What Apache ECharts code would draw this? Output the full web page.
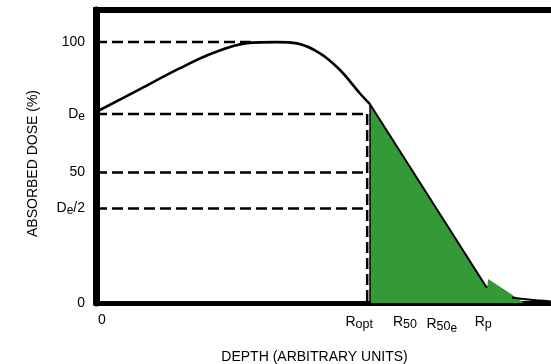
<!DOCTYPE html>
<html>
<head>
<meta charset="utf-8">
<script src="https://cdn.jsdelivr.net/npm/echarts@6/dist/echarts.min.js"></script>
<style>
  html, body { margin: 0; padding: 0; background: #fff; }
  #chart { width: 551px; height: 364px; }
</style>
</head>
<body>
<div id="chart"></div>
<script>
// Electron depth-dose curve (schematic), depth in arbitrary units, dose in %.
const buildUpDepth = [0, 0.967, 1.846, 2.571, 3.319, 3.978, 4.418, 4.923, 5.363, 5.802, 6.022];
const buildUpDose  = [73.2, 82.0, 90.0, 95.8, 99.6, 100, 99.5, 95.7, 89.3, 80.3, 76.2];

// Linear fall-off from the shoulder towards the practical range
const falloffDepth = [6.022, 8.593];
const falloffDose  = [76.2, 5.75];

// Bremsstrahlung tail beyond the practical range
const tailDepth = [9.14, 9.5, 10];
const tailDose  = [2.1, 1.3, 0.6];

// Shaded region under the fall-off
const shadeDepth = [6.022, 6.022, 8.593, 8.62, 8.88, 9.10, 9.21, 9.32, 9.40];
const shadeDose  = [0, 76.2, 5.75, 9.2, 6.2, 3.7, 2.3, 1.1, 0];

// Reference dose levels and depths
const De = 72.4;
const halfDe = De / 2;
const Ropt = 5.96;
const R50 = 6.79;
const R50e = 7.60;
const Rp = 8.51;
const peakLineEnd = 3.4;

const yTickValues = [0, halfDe, 50, De, 100];
const yTickLabels = ['0', '{d|D}{e|e}{d|/2}', '50', '{d|D}{e|e}', '100'];
const xTickValues = [0, Ropt, R50, R50e, Rp];
const xTickLabels = ['{g| }{r|0}', '{r|R}{s|opt}{w| }', '{r|R}{s|50}', '{r|R}{s|50}{t|e}', '{r|R}{s|p}'];

const FONT = '"Liberation Sans", Arial, Helvetica, sans-serif';
const dash = [11, 5];

const zip = (xs, ys) => xs.map((x, i) => [x, ys[i]]);

function labelFor(values, labels, v) {
  let best = 0;
  values.forEach((t, i) => { if (Math.abs(t - v) < Math.abs(values[best] - v)) best = i; });
  return labels[best];
}

function dashed(data) {
  return {
    type: 'line', data, symbol: 'none', silent: true,
    lineStyle: { color: '#000', width: 2.5, type: dash }
  };
}

const chart = echarts.init(document.getElementById('chart'), null, { renderer: 'canvas' });

chart.setOption({
  animation: false,
  backgroundColor: '#fff',
  grid: { left: 96, right: 0, top: 10, bottom: 61 },
  xAxis: [
    {
      type: 'value', min: 0, max: 10,
      axisLine: { show: true, onZero: false, lineStyle: { color: '#000', width: 5, cap: 'square' } },
      axisTick: { show: false },
      splitLine: { show: false },
      axisLabel: {
        customValues: xTickValues,
        margin: 10,
        color: '#000',
        fontFamily: FONT,
        fontSize: 14,
        formatter: v => labelFor(xTickValues, xTickLabels, v),
        rich: {
          r: { fontSize: 14, fontFamily: FONT, color: '#000' },
          s: { fontSize: 12.5, fontFamily: FONT, color: '#000', padding: [5, 0, 0, 0] },
          t: { fontSize: 12, fontFamily: FONT, color: '#000', padding: [10, 0, 0, 0] },
          g: { width: 12 },
          w: { width: 16 }
        }
      }
    },
    {
      type: 'value', min: 0, max: 10, position: 'top',
      axisLine: { show: true, onZero: false, lineStyle: { color: '#000', width: 6, cap: 'square' } },
      axisTick: { show: false },
      splitLine: { show: false },
      axisLabel: { show: false }
    }
  ],
  yAxis: {
    type: 'value', min: 0, max: 112.3,
    axisLine: { show: true, lineStyle: { color: '#000', width: 7 } },
    axisTick: { show: false },
    splitLine: { show: false },
    axisLabel: {
      customValues: yTickValues,
      margin: 11,
      color: '#000',
      fontFamily: FONT,
      fontSize: 14,
      formatter: v => labelFor(yTickValues, yTickLabels, v),
      rich: {
        d: { fontSize: 14, fontFamily: FONT, color: '#000' },
        e: { fontSize: 12, fontFamily: FONT, color: '#000', padding: [5, 0, 0, 0] }
      }
    }
  },
  graphic: [
    {
      type: 'text', x: 314.5, y: 357,
      style: { text: 'DEPTH (ARBITRARY UNITS)', font: '14px ' + FONT, fill: '#000', align: 'center', verticalAlign: 'middle' }
    },
    {
      type: 'text', x: 33, y: 163.5, rotation: Math.PI / 2,
      style: { text: 'ABSORBED DOSE (%)', font: '14px ' + FONT, fill: '#000', align: 'center', verticalAlign: 'middle' }
    }
  ],
  series: [
    dashed([[0, 100], [peakLineEnd, 100]]),
    dashed([[0, De], [Ropt, De]]),
    dashed([[0, 50], [Ropt, 50]]),
    dashed([[0, halfDe], [Ropt, halfDe]]),
    dashed([[Ropt, De], [Ropt, 0]]),
    {
      type: 'line', data: zip(shadeDepth, shadeDose), symbol: 'none', silent: true,
      lineStyle: { width: 0 },
      areaStyle: { color: '#349a37', opacity: 1 }
    },
    {
      type: 'line', data: [[falloffDepth[0], 0], [falloffDepth[0], falloffDose[0]]], symbol: 'none', silent: true,
      lineStyle: { color: '#000', width: 1.5 }
    },
    {
      type: 'line', data: zip(buildUpDepth, buildUpDose), symbol: 'none', silent: true,
      smooth: 0.35,
      lineStyle: { color: '#000', width: 2.6 }
    },
    {
      type: 'line', data: zip(falloffDepth, falloffDose), symbol: 'none', silent: true,
      lineStyle: { color: '#000', width: 2 }
    },
    {
      type: 'line', data: zip(tailDepth, tailDose), symbol: 'none', silent: true,
      smooth: 0.4,
      lineStyle: { color: '#000', width: 2 }
    }
  ]
});
</script>
</body>
</html>
